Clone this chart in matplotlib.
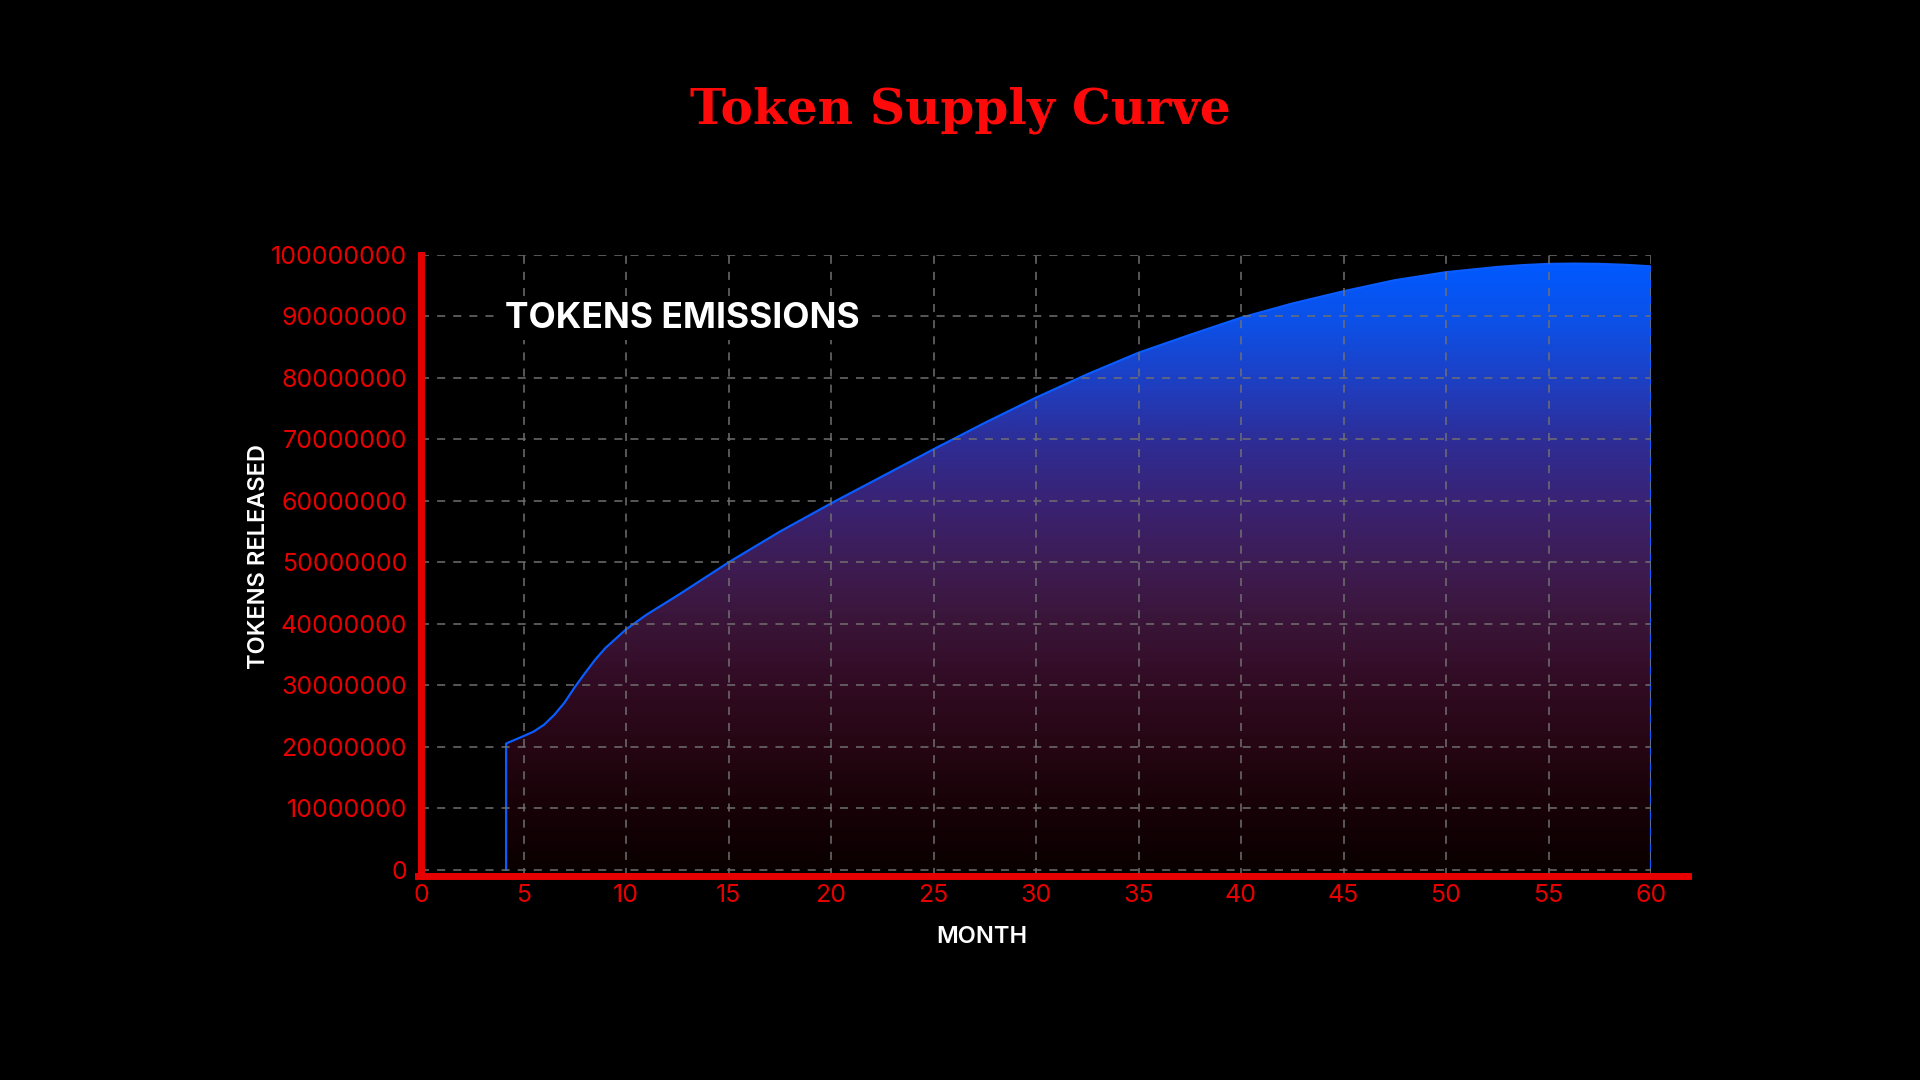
import numpy as np
import matplotlib
matplotlib.use("Agg")
import matplotlib.pyplot as plt
from matplotlib.colors import LinearSegmentedColormap

# ---- data ----
months = [4.15, 5, 5.5, 6, 6.5, 7, 7.5, 8, 8.5, 9, 9.5, 10, 11, 12.5, 15,
          17.5, 20, 22.5, 25, 27.5, 30, 32.5, 35, 37.5, 40, 42.5, 45, 47.5,
          50, 52.5, 53.75, 55, 56.25, 57.5, 58.75, 60]
tokens_released = [20.55e6, 21.75e6, 22.5e6, 23.6e6, 25.2e6, 27.2e6, 29.7e6,
                   32.0e6, 34.2e6, 36.1e6, 37.6e6, 39.1e6, 41.5e6, 44.6e6,
                   50.0e6, 55.0e6, 59.6e6, 64.0e6, 68.4e6, 72.7e6, 76.8e6,
                   80.6e6, 84.1e6, 87.0e6, 89.8e6, 92.1e6, 94.1e6, 95.9e6,
                   97.2e6, 98.05e6, 98.35e6, 98.55e6, 98.6e6, 98.55e6,
                   98.4e6, 98.15e6]
x_ticks = [0, 5, 10, 15, 20, 25, 30, 35, 40, 45, 50, 55, 60]
y_ticks = [0, 10e6, 20e6, 30e6, 40e6, 50e6, 60e6, 70e6, 80e6, 90e6, 100e6]
title = "Token Supply Curve"
series_label = "TOKENS EMISSIONS"
x_label = "MONTH"
y_label = "TOKENS RELEASED"

RED = "#e60000"
BLUE = "#0a5cff"

plt.rcParams["font.family"] = ["Inter", "DejaVu Sans"]
plt.rcParams["lines.scale_dashes"] = False

fig = plt.figure(figsize=(19.2, 10.8), dpi=100, facecolor="black")
ax = fig.add_axes([421 / 1920, 1 - 876 / 1080, 1230 / 1920, 621 / 1080])
ax.set_facecolor("black")

x = np.array(months)
y = np.array(tokens_released)

# gradient fill clipped to area under the curve
fill = ax.fill_between(x, 0, y, facecolor="none", edgecolor="none")
stops = [(0.0, "#0a0000"), (0.10, "#170207"), (0.20, "#250612"),
         (0.30, "#310b22"), (0.40, "#3a1436"), (0.50, "#3e1c52"),
         (0.60, "#3a2272"), (0.70, "#2f2c93"), (0.80, "#1f3ec0"),
         (0.90, "#0d50e6"), (1.0, "#0059ff")]
cmap = LinearSegmentedColormap.from_list("grad", stops)
grad = np.linspace(0, 1, 512).reshape(-1, 1)
top = y.max()
img = ax.imshow(grad, cmap=cmap, origin="lower", aspect="auto",
                extent=[x.min(), x.max(), 0, top], interpolation="bilinear",
                zorder=1)
img.set_clip_path(fill.get_paths()[0], transform=ax.transData)
ax.set_xlim(0, 60)
ax.set_ylim(-1e6, 100e6)

# outline incl. vertical drops at the ends
lx = np.concatenate([[x[0]], x, [x[-1]]])
ly = np.concatenate([[0], y, [0]])
ax.plot(lx, ly, color=BLUE, lw=1.6, zorder=2, solid_joinstyle="round")

# grid
ax.set_xticks(x_ticks)
ax.set_yticks(y_ticks)
ax.set_yticklabels([f"{int(v)}" for v in y_ticks])
ax.grid(True, color="#707070", lw=1.1, linestyle=(0, (5.8, 5.8)), zorder=3)
ax.set_axisbelow(False)

# spines
for s in ["top", "right"]:
    ax.spines[s].set_visible(False)
for s in ["left", "bottom"]:
    ax.spines[s].set_color(RED)
    ax.spines[s].set_linewidth(5)
    ax.spines[s].set_zorder(5)
ax.spines["bottom"].set_bounds(-0.15, 61.8)
ax.spines["left"].set_bounds(-1e6, 100e6)

ax.tick_params(axis="both", length=0, colors=RED, labelsize=18)
ax.tick_params(axis="x", pad=6)
ax.tick_params(axis="y", pad=10)

ax.set_xlabel(x_label, color="white", fontsize=17, fontweight="semibold", va="center")
ax.xaxis.set_label_coords(0.456, -0.098)
ax.set_ylabel(y_label, color="white", fontsize=17, fontweight="semibold", va="center")
ax.yaxis.set_label_coords(-0.132, 0.514)

ax.text(4.1, 89.7e6, series_label, color="white", fontsize=25.5, fontweight="bold",
        ha="left", va="center", zorder=6,
        bbox=dict(facecolor="black", edgecolor="none", pad=4))

fig.text(0.5, 1 - 123 / 1080, title, color="#ff0a0a", fontsize=35,
         fontweight="bold", family=["DejaVu Serif", "DejaVu Sans"],
         ha="center", va="baseline")

fig.savefig("out.png", dpi=100, facecolor="black")
